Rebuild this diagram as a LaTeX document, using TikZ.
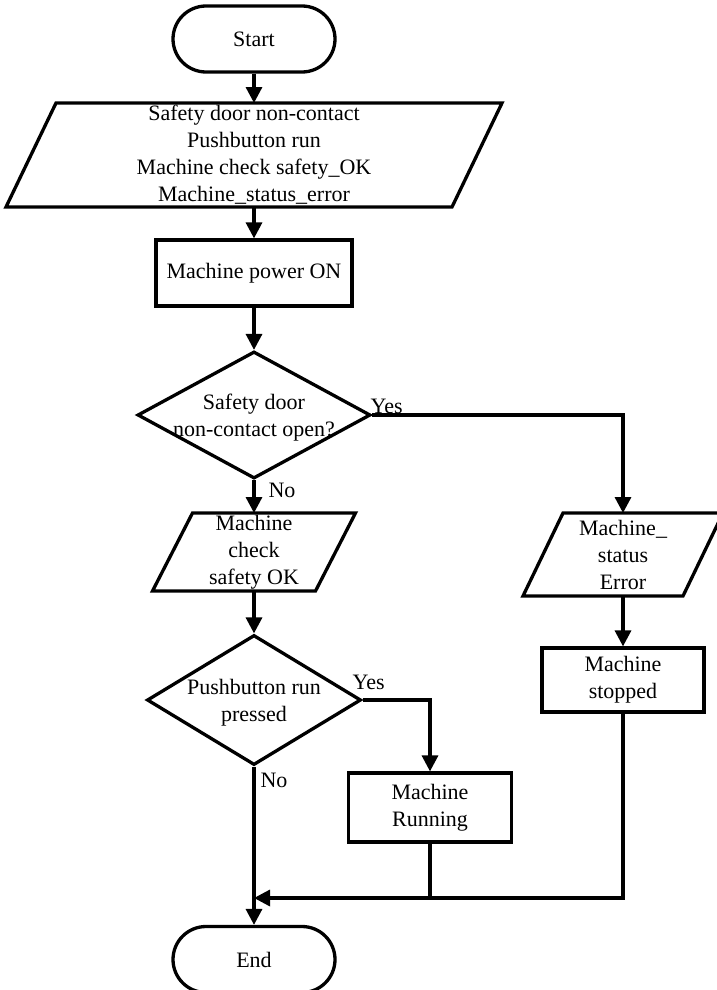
\documentclass[tikz,border=0pt]{standalone}
\usepackage{fontspec}
\setmainfont{Liberation Serif}
\usetikzlibrary{shapes.geometric,shapes.misc,arrows.meta}

% parallelogram drawn around an invisible rectangular node
\newcommand\slantbox[2]{%
  \draw[shapeline] ([xshift=#2]#1.north west) -- ([xshift=#2]#1.north east)
    -- ([xshift=-#2]#1.south east) -- ([xshift=-#2]#1.south west) -- cycle;}

\begin{document}
\begin{tikzpicture}[x=1pt,y=-1pt,
  shapeline/.style={line width=3.3pt, line join=miter},
  every node/.style={font=\fontsize{22pt}{27pt}\selectfont, align=center,
                     inner sep=0pt, outer sep=1.6pt},
  terminal/.style={shapeline, draw, rounded rectangle,
                   minimum width=162pt, minimum height=66pt},
  process/.style={shapeline, draw, rectangle},
  iobox/.style={rectangle, outer sep=0pt},
  decision/.style={shapeline, draw, diamond},
  flow/.style={line width=3.3pt, -{Triangle[width=16pt,length=16pt]}},
  link/.style={line width=3.3pt},
  branch/.style={anchor=base west}
]
\path[use as bounding box, fill=white] (0,0) rectangle (717,990);

% shapes
\node[terminal] (start) at (254,39) {Start};

\node[iobox, minimum width=446pt, minimum height=104pt] (inputs) at (254,155)
  {Safety door non-contact\\Pushbutton run\\Machine check safety\_OK\\Machine\_status\_error};
\slantbox{inputs}{25pt}

\node[process, minimum width=196pt, minimum height=66pt] (power) at (254,273) {Machine power ON};

\node[decision, minimum width=233pt, minimum height=127pt] (door) at (254,415) {};
\node (doortext) at ([yshift=-3pt]door.center) {Safety door\\non-contact open?};

\node[iobox, minimum width=163pt, minimum height=78pt] (check) at (254,552)
  {Machine\\check\\safety OK};
\slantbox{check}{20pt}

\node[iobox, minimum width=160pt, minimum height=83pt] (status) at (623,554.5)
  {Machine\_\\status\\Error};
\slantbox{status}{20pt}

\node[process, minimum width=162pt, minimum height=64pt] (stopped) at (623,680)
  {Machine\\stopped};

\node[decision, minimum width=214pt, minimum height=130pt] (push) at (254,700) {};
\node (pushtext) at ([yshift=-3pt]push.center) {Pushbutton run\\pressed};

\node[process, minimum width=163pt, minimum height=69pt] (running) at (430,807.5)
  {Machine\\Running};

\node[terminal] (end) at (254,959.5) {End};

% connectors
\draw[flow] (start.south) -- (inputs.north);
\draw[flow] (inputs.south) -- (power.north);
\draw[flow] (power.south) -- (door.north);
\draw[flow] (door.south) -- (check.north);
\draw[flow] (door.east) -| (status.north);
\draw[flow] (status.south) -- (stopped.north);
\draw[flow] (check.south) -- (push.north);
\draw[flow] (push.east) -| (running.north);
\draw[flow] (push.south) -- (end.north);
\coordinate (merge) at (push.south |- 0,898);
\draw[link] (running.south) -- (running.south |- merge);
\draw[flow] (stopped.south) |- (merge);

% branch labels
\node[branch] (yes1) at ([shift={(-3pt,2pt)}]door.east) {Yes};
\node[branch] (no1) at ([shift={(13pt,-17pt)}]door.south) {No};
\node[branch] (yes2) at ([shift={(-11.6pt,11pt)}]push.east) {Yes};
\node[branch] (no2) at ([shift={(5pt,-20.4pt)}]push.south) {No};
\end{tikzpicture}
\end{document}
